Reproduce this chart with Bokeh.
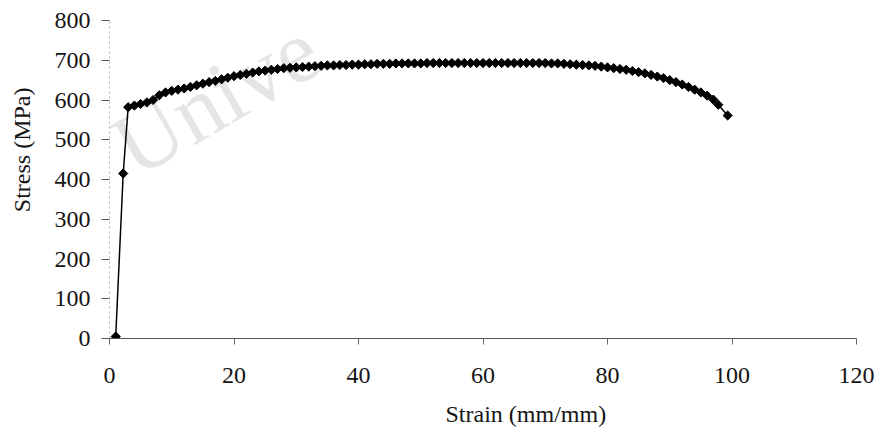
import math
from bokeh.plotting import figure
from bokeh.models import Range1d, FixedTicker, Label, Title
from bokeh.embed import file_html
from bokeh.resources import INLINE

# ---- data ----
strain = [1.0, 2.2, 3, 4, 5, 6, 7, 8, 9, 10,
          11, 12, 13, 14, 15, 16, 17, 18, 19, 20,
          21, 22, 23, 24, 25, 26, 27, 28, 29, 30,
          31, 32, 33, 34, 35, 36, 37, 38, 39, 40,
          41, 42, 43, 44, 45, 46, 47, 48, 49, 50,
          51, 52, 53, 54, 55, 56, 57, 58, 59, 60,
          61, 62, 63, 64, 65, 66, 67, 68, 69, 70,
          71, 72, 73, 74, 75, 76, 77, 78, 79, 80,
          81, 82, 83, 84, 85, 86, 87, 88, 89, 90,
          91, 92, 93, 94, 95, 96, 97, 97.8, 99.3]
stress = [5, 415, 582, 586, 590, 594, 600, 612, 619, 623,
          626, 629, 633, 637, 641, 645, 648, 652, 656, 660,
          663, 666, 669, 672, 674, 676, 678, 680, 681, 682,
          683, 684, 685, 686, 687, 687, 688, 688, 689, 689,
          690, 690, 691, 691, 691, 692, 692, 692, 692, 692,
          693, 693, 693, 693, 693, 693, 693, 693, 693, 693,
          693, 693, 693, 693, 693, 693, 693, 693, 693, 693,
          692, 692, 691, 690, 689, 688, 687, 686, 684, 682,
          680, 678, 676, 673, 670, 667, 663, 659, 655, 650,
          645, 639, 633, 626, 619, 611, 601, 588, 561]
x_ticks = [0, 20, 40, 60, 80, 100, 120]
y_ticks = [0, 100, 200, 300, 400, 500, 600, 700, 800]
x_label = "Strain (mm/mm)"
y_label = "Stress (MPa)"
watermark = "Unive"

FONT = "Liberation Serif"
TXT = "#141414"

p = figure(width=876, height=434, output_backend="svg", toolbar_location=None,
           x_range=Range1d(0, 120), y_range=Range1d(0, 800),
           min_border_left=109, min_border_right=20,
           min_border_top=20, min_border_bottom=96)
p.background_fill_color = "white"
p.border_fill_color = "white"
p.outline_line_color = None
p.xgrid.visible = False
p.ygrid.visible = False

# faint watermark (kept inside the plot frame)
wm = Label(x=5.8, y=360, text=watermark, angle=math.radians(30),
           text_font=FONT, text_font_size="90px", text_color="black",
           text_alpha=0.1, level="underlay")
p.add_layout(wm)

# axes
xa = p.xaxis[0]
xa.ticker = FixedTicker(ticks=x_ticks)
xa.minor_tick_line_color = None
xa.major_tick_out = 6
xa.major_tick_in = 0
xa.major_tick_line_color = "#666666"
xa.axis_line_color = "#555555"
xa.axis_line_width = 1
xa.major_label_standoff = 23
xa.major_label_text_font = FONT
xa.major_label_text_font_size = "24px"
xa.major_label_text_color = TXT

ya = p.yaxis[0]
ya.ticker = FixedTicker(ticks=y_ticks)
ya.minor_tick_line_color = None
ya.major_tick_out = 8
ya.major_tick_in = 0
ya.major_tick_line_color = "#555555"
ya.axis_line_color = "#b5b5b5"
ya.axis_line_dash = "2 3"
ya.major_label_standoff = 11
ya.major_label_text_font = FONT
ya.major_label_text_font_size = "24px"
ya.major_label_text_color = TXT


def spacer(px):
    # a blank title used only to reserve about px pixels of room
    return Title(text=" ", text_font_size="1px", standoff=max(px - 3, 0))


p.add_layout(spacer(8), "below")
p.add_layout(spacer(12), "left")

# axis titles, offset along the axis like the reference
tx = Title(text=x_label, align="left", offset=336, text_font=FONT,
           text_font_size="24px", text_font_style="normal", text_color=TXT,
           standoff=10)
p.add_layout(tx, "below")
ty = Title(text=y_label, align="right", offset=67, text_font=FONT,
           text_font_size="24px", text_font_style="normal", text_color=TXT,
           standoff=10)
p.add_layout(ty, "left")

# series
p.line(strain, stress, line_color="black", line_width=1.5)
p.scatter(strain, stress, marker="square", angle=math.pi / 4, size=6.5,
          fill_color="black", line_color="black")

open("out.html", "w").write(file_html(p, INLINE))
